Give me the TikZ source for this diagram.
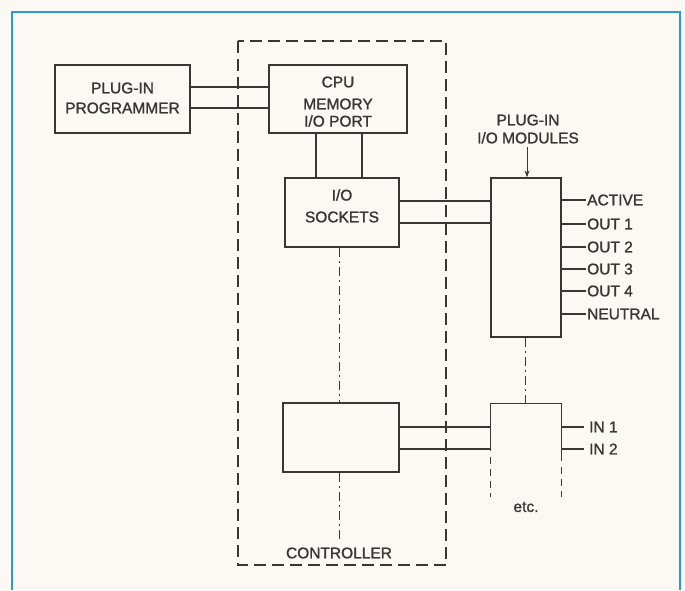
\documentclass[tikz,border=0pt]{standalone}
\usepackage{fontspec}
\setmainfont{Liberation Sans}
\newfontfamily\diagfont[FakeBold=1.3]{Liberation Sans}
\usetikzlibrary{arrows.meta}
\definecolor{paper}{HTML}{FCF9F4}
\definecolor{frameblue}{HTML}{2A9AD6}
\definecolor{ink}{HTML}{3A3634}
\begin{document}
\begin{tikzpicture}[x=1pt,y=-1pt,
  every node/.style={font=\diagfont\fontsize{15.5}{20}\selectfont, text=ink, inner sep=0pt},
  box/.style={draw=ink, line width=1.3pt, rectangle, align=center},
  wire/.style={draw=ink, line width=1.3pt},
  ctrlframe/.style={draw=ink, line width=1.1pt, dash pattern=on 12pt off 6pt},
  chain/.style={draw=ink, line width=0.9pt, dash pattern=on 9pt off 4pt on 2pt off 4pt},
  modgap/.style={draw=ink, line width=1.1pt, dash pattern=on 7pt off 5pt},
  lbl/.style={anchor=west}]
\useasboundingbox (0,0) rectangle (685,590);
\fill[paper] (0,0) rectangle (685,590);
\draw[frameblue, line width=2.5pt] (12,590) -- (12,12) -- (680,12) -- (680,590);

% controller dashed frame
\draw[ctrlframe] (238,41) rectangle (446,565);
\node (ctrl) at (339,553) {CONTROLLER};

% boxes
\node[box, minimum width=135pt, minimum height=68pt] (prog) at (122.5,99) {};
\node at (122.5,88) {PLUG-IN};
\node at (122.5,108) {PROGRAMMER};

\node[box, minimum width=138pt, minimum height=68pt] (cpu) at (338,99) {};
\node at (338,82) {CPU};
\node at (338,104) {MEMORY};
\node at (338,121) {I/O PORT};

\node[box, minimum width=114pt, minimum height=69pt] (sock) at (342,212.5) {};
\node at (342,195) {I/O};
\node at (342,217) {SOCKETS};

\node[box, minimum width=116pt, minimum height=69pt] (lowbox) at (341,437.5) {};

\node[box, minimum width=70pt, minimum height=159pt] (upmod) at (526,257.5) {};
\node (lowmod) [minimum width=70pt, minimum height=93pt] at (526,450.5) {};

% module label and arrow
\node (modlbl) at (528,129) [align=center] {PLUG-IN\\[-2pt]I/O MODULES};
\draw[ink, line width=1pt, -{Stealth[length=7pt,width=5pt]}] (527,147) -- (upmod.north -| 527,0);

% programmer to cpu
\draw[wire] (prog.east |- 0,87) -- (cpu.west |- 0,87);
\draw[wire] (prog.east |- 0,108) -- (cpu.west |- 0,108);
% cpu to sockets
\draw[wire] (cpu.south -| 316,0) -- (sock.north -| 316,0);
\draw[wire] (cpu.south -| 362,0) -- (sock.north -| 362,0);
% sockets to upper module
\draw[wire] (sock.east |- 0,201) -- (upmod.west |- 0,201);
\draw[wire] (sock.east |- 0,223) -- (upmod.west |- 0,223);
% lower box to lower module
\draw[wire] (lowbox.east |- 0,427) -- (lowmod.west |- 0,427);
\draw[wire] (lowbox.east |- 0,449) -- (lowmod.west |- 0,449);

% lower module (open bottom)
\draw[wire] (lowmod.west |- 0,451) -- (lowmod.north west) -- (lowmod.north east) -- (lowmod.east |- 0,461);
\draw[modgap] (lowmod.west |- 0,457) -- (lowmod.south west);
\draw[modgap] (lowmod.east |- 0,467) -- (lowmod.south east);
\node (etc) at (526,507) {etc.};

% chain lines
\draw[chain] (sock.south -| 339,0) -- (lowbox.north -| 339,0);
\draw[chain] (lowbox.south -| 339,0) -- (339,540);
\draw[chain] (upmod.south -| 525,0) -- (lowmod.north -| 525,0);

% outputs
\node[lbl] (act) at (587,200) {ACTIVE};
\node[lbl] (o1) at (587,224) {OUT 1};
\node[lbl] (o2) at (587,247) {OUT 2};
\node[lbl] (o3) at (587,269) {OUT 3};
\node[lbl] (o4) at (587,291) {OUT 4};
\node[lbl] (neu) at (587,314) {NEUTRAL};
\foreach \n in {act,o1,o2,o3,o4,neu}
  \draw[wire] (upmod.east |- \n.west) -- ([xshift=-1pt]\n.west);

\node[lbl] (in1) at (589,427) {IN 1};
\node[lbl] (in2) at (589,449) {IN 2};
\foreach \n in {in1,in2}
  \draw[wire] (lowmod.east |- \n.west) -- ([xshift=-5pt]\n.west);
\end{tikzpicture}
\end{document}
